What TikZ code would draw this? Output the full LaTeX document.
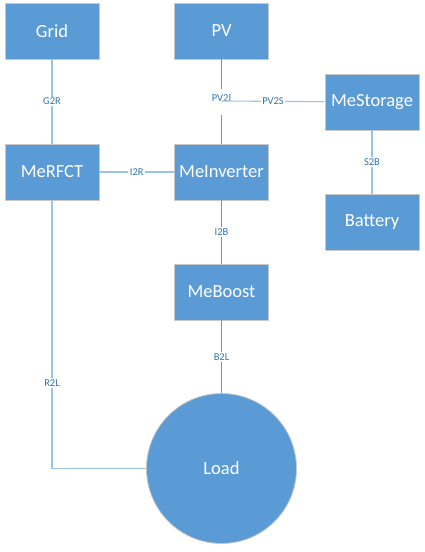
\documentclass[tikz,border=0pt]{standalone}
\usepackage{fontspec}
\setmainfont{Carlito}
\usepackage{tikz}
\usetikzlibrary{positioning}
\definecolor{boxblue}{RGB}{91,155,213}
\definecolor{lineblue}{RGB}{91,155,213}
\definecolor{palelineblue}{RGB}{157,195,230}
\definecolor{textblue}{RGB}{46,117,182}
\definecolor{boxedge}{RGB}{200,200,200}

\tikzset{
  block/.style={rectangle, fill=boxblue, draw=boxedge, line width=0.8pt,
    minimum width=94pt, minimum height=56pt, inner sep=0pt,
    text=white, font=\fontsize{18.5}{20}\selectfont},
  loadcircle/.style={circle, fill=boxblue, draw=boxedge, line width=0.8pt,
    minimum size=150pt, inner sep=0pt, text=white, font=\fontsize{18.5}{20}\selectfont},
  wire/.style={draw=lineblue, line width=0.9pt},
  palewire/.style={draw=palelineblue, line width=1.1pt},
  lbl/.style={fill=white, inner sep=1.5pt, text=textblue, font=\fontsize{10.5}{12}\selectfont}
}

\begin{document}
\begin{tikzpicture}[x=1pt,y=-1pt]
\useasboundingbox (0,0) rectangle (425,552);

%Shape: blocks
\node[block] (Grid) at (52,31) {Grid};
\node[block] (PV) at (221.5,31) {PV};
\node[block] (MeStorage) at (372,102) {MeStorage};
\node[block] (MeRFCT) at (52,172) {MeRFCT};
\node[block] (MeInverter) at (221.5,172) {MeInverter};
\node[block] (Battery) at (372,222) {Battery};
\node[block] (MeBoost) at (221.5,292) {MeBoost};
%Shape: Circle
\node[loadcircle] (Load) at (221.5,468.5) {Load};

%Straight Lines
\coordinate (pvjoin) at (221.5,101);
\coordinate (rfctcorner) at (52,468.5);
\draw[palewire] (Grid) -- node[lbl] {G2R} (MeRFCT);
\draw[wire] (PV) -- node[lbl, minimum height=26pt, pos=0.5] {\raisebox{6pt}{PV2I}} (MeInverter);
\draw[palewire] (pvjoin) -- node[lbl, pos=0.5] {PV2S} (MeStorage);
\draw[palewire] (MeStorage) -- node[lbl] {S2B} (Battery);
\draw[palewire] (MeRFCT) -- node[lbl] {I2R} (MeInverter);
\draw[wire] (MeInverter) -- node[lbl] {I2B} (MeBoost);
\draw[wire] (MeBoost) -- node[lbl] {B2L} (Load);
\draw[palewire] (MeRFCT) -- node[lbl, pos=0.68] {R2L} (rfctcorner) -- (Load);

\end{tikzpicture}
\end{document}
